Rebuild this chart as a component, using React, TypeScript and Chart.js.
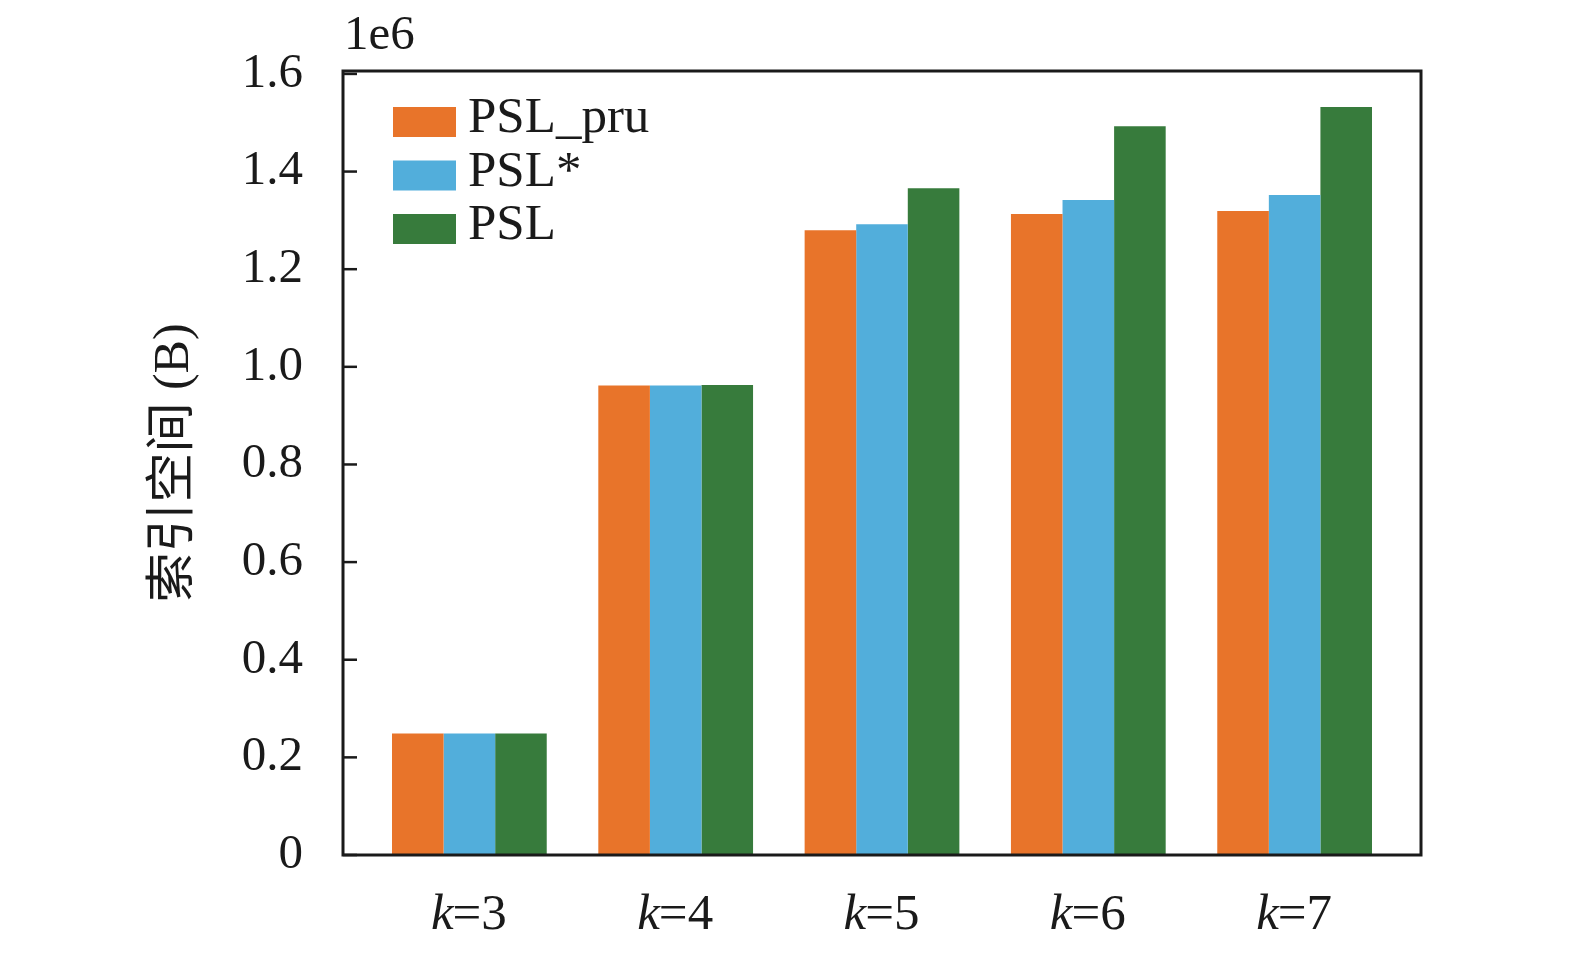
import React, { useEffect, useRef } from "react";
import { Chart, registerables } from "chart.js";

Chart.register(...registerables);

const categories = ["k=3", "k=4", "k=5", "k=6", "k=7"];
const seriesNames = ["PSL_pru", "PSL*", "PSL"];
const psl_pru = [249000, 962000, 1280000, 1313000, 1319000];
const psl_star = [249000, 962000, 1292000, 1342000, 1352000];
const psl = [249000, 963000, 1366000, 1493000, 1532000];
const colors = ["#E8742A", "#52AEDB", "#377B3C"];
const yTicks = [0, 200000, 400000, 600000, 800000, 1000000, 1200000, 1400000, 1600000];
const yTickLabels = ["0", "0.2", "0.4", "0.6", "0.8", "1.0", "1.2", "1.4", "1.6"];
const yTitle = "索引空间 (B)";
const offsetText = "1e6";

const SERIF = "'Liberation Serif', 'Noto Sans CJK SC', serif";
const INK = "#1a1a1a";
const TARGET = { left: 343, top: 71, right: 1421, bottom: 855 };

const decorPlugin = {
  id: "decor",
  afterDraw(chart: any) {
    const ctx = chart.ctx as CanvasRenderingContext2D;
    const a = chart.chartArea;
    const x = chart.scales.x;
    const y = chart.scales.y;
    ctx.save();
    ctx.strokeStyle = INK;
    ctx.lineWidth = 3;
    ctx.strokeRect(a.left, a.top, a.right - a.left, a.bottom - a.top);
    ctx.lineWidth = 2.5;
    yTicks.forEach((v) => {
      const py = y.getPixelForValue(v);
      ctx.beginPath();
      ctx.moveTo(a.left, py);
      ctx.lineTo(a.left + 14, py);
      ctx.stroke();
    });
    ctx.fillStyle = INK;
    ctx.font = `49px ${SERIF}`;
    ctx.textAlign = "left";
    ctx.textBaseline = "alphabetic";
    ctx.fillText(offsetText, a.left + 1, 49);
    categories.forEach((c, i) => {
      const px = x.getPixelForValue(i);
      const idx = c.indexOf("=");
      const pre = c.slice(0, idx);
      const rest = c.slice(idx);
      ctx.font = `italic 51px ${SERIF}`;
      const w1 = ctx.measureText(pre).width;
      ctx.font = `51px ${SERIF}`;
      const w2 = ctx.measureText(rest).width;
      const start = px - (w1 + w2) / 2;
      ctx.font = `italic 51px ${SERIF}`;
      ctx.fillText(pre, start, 929);
      ctx.font = `51px ${SERIF}`;
      ctx.fillText(rest, start + w1 - 1, 929);
    });
    ctx.save();
    ctx.translate(175, (a.top + a.bottom) / 2);
    ctx.rotate(-Math.PI / 2);
    ctx.font = `50px ${SERIF}`;
    ctx.textAlign = "center";
    ctx.textBaseline = "middle";
    ctx.fillText(yTitle, 0, 0);
    ctx.restore();
    chart.data.datasets.forEach((ds: any, i: number) => {
      const top = 107 + i * 53.5;
      ctx.fillStyle = ds.backgroundColor;
      ctx.fillRect(393, top, 63, 30);
      ctx.fillStyle = INK;
      ctx.font = `51px ${SERIF}`;
      ctx.textAlign = "left";
      ctx.textBaseline = "alphabetic";
      ctx.fillText(ds.label, 468, top + 25);
    });
    ctx.restore();
  },
};

export default function App() {
  const ref = useRef<HTMLCanvasElement | null>(null);
  useEffect(() => {
    const canvas = ref.current;
    if (!canvas) return;
    const seriesData = [psl_pru, psl_star, psl];
    const chart: any = new Chart(canvas, {
      type: "bar",
      data: {
        datasets: seriesData.map((vals, s) => ({
          label: seriesNames[s],
          data: vals.map((v, i) => ({ x: i, y: v })),
          backgroundColor: colors[s],
          borderWidth: 0,
          categoryPercentage: 0.75,
          barPercentage: 1,
        })),
      },
      options: {
        animation: false,
        responsive: false,
        devicePixelRatio: 1,
        layout: { padding: { left: 0, top: TARGET.top, right: 1575 - TARGET.right, bottom: 0 } },
        plugins: { legend: { display: false }, tooltip: { enabled: false } },
        scales: {
          x: {
            type: "linear",
            offset: false,
            min: -0.6125,
            max: 4.6125,
            afterBuildTicks: (s: any) => {
              s.ticks = categories.map((_, i) => ({ value: i }));
            },
            ticks: { display: false },
            grid: { display: false, drawTicks: false },
            border: { display: false },
            afterFit: (s: any) => {
              s.height = 953 - TARGET.bottom;
            },
          },
          y: {
            type: "linear",
            min: 0,
            max: 1606000,
            afterBuildTicks: (s: any) => {
              s.ticks = yTicks.map((v) => ({ value: v }));
            },
            ticks: {
              font: { family: SERIF, size: 49 },
              color: INK,
              padding: 40,
              callback: (v: any) => {
                const i = yTicks.indexOf(Number(v));
                return i >= 0 ? yTickLabels[i] : "";
              },
            },
            grid: { display: false, drawTicks: false },
            border: { display: false },
            afterFit: (s: any) => {
              s.width = TARGET.left;
            },
          },
        },
      } as any,
      plugins: [decorPlugin],
    });
    for (let k = 0; k < 3; k++) {
      const a = chart.chartArea;
      const p = chart.options.layout.padding;
      const dl = TARGET.left - a.left;
      const dt = TARGET.top - a.top;
      const dr = a.right - TARGET.right;
      const db = a.bottom - TARGET.bottom;
      if (Math.abs(dl) + Math.abs(dt) + Math.abs(dr) + Math.abs(db) < 0.5) break;
      chart.options.layout.padding = {
        left: Math.max(0, p.left + dl),
        top: p.top + dt,
        right: p.right + dr,
        bottom: Math.max(0, p.bottom + db),
      };
      chart.update();
    }
    return () => chart.destroy();
  }, []);
  return (
    <div style={{ position: "fixed", left: 0, top: 0, width: 1575, height: 953, background: "#fff" }}>
      <canvas ref={ref} width={1575} height={953} />
    </div>
  );
}
